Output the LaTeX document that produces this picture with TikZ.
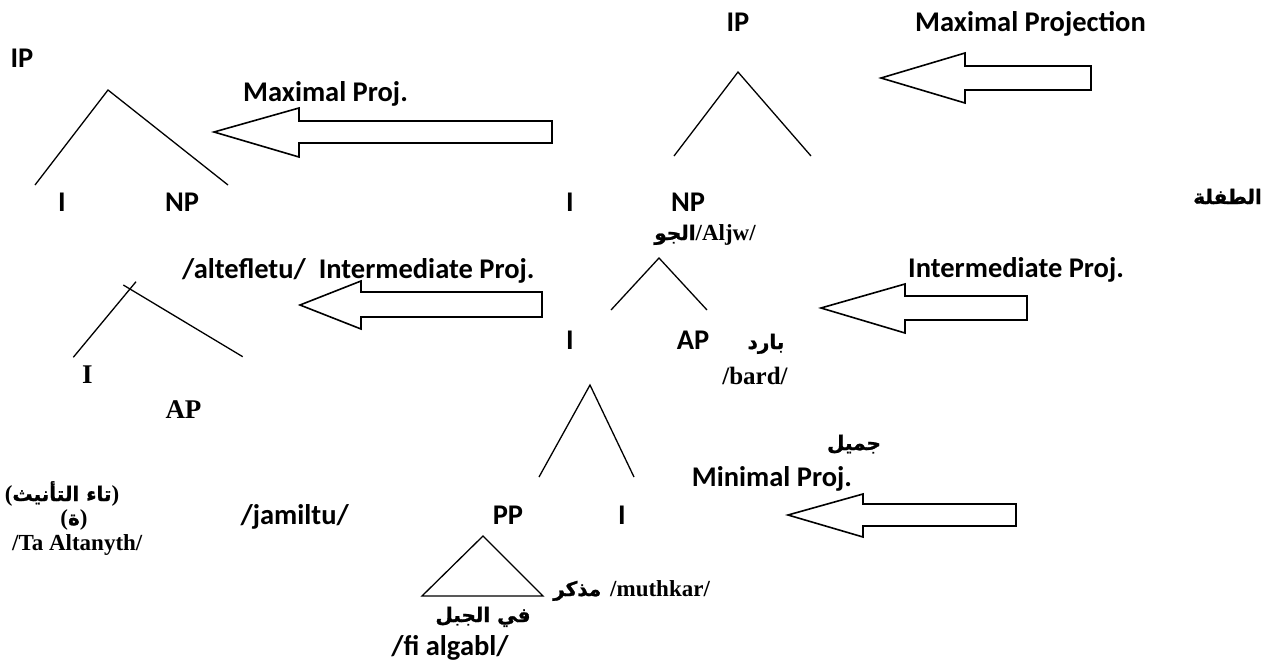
\documentclass[tikz,border=0pt]{standalone}
\usepackage{fontspec}
\setmainfont{Carlito}
\newfontfamily\tnr{Liberation Serif}
\newfontfamily\arabicfont[Script=Arabic, BoldFeatures={FakeBold=1.2}]{DejaVu Sans}
\TeXXeTstate=1
\newcommand\tmsfont[1]{\tnr\fontsize{#1}{#1}\selectfont\bfseries}
\newcommand\arbfont{\arabicfont\fontsize{20}{22}\selectfont\bfseries}
\begin{document}
\begin{tikzpicture}[x=1pt,y=-1pt,
  cal/.style={font=\fontsize{28.5}{31}\selectfont\bfseries, inner sep=0pt},
  tms/.style={font=\tmsfont{23}, inner sep=0pt},
  arb/.style={font=\arbfont, inner sep=0pt},
  branch/.style={line width=1.3pt},
  blockarr/.style={draw, line width=1.6pt, fill=white, line join=miter}]
\useasboundingbox (0,0) rectangle (1270,665);

% ---------- upper tree (IP -> I NP) ----------
\node[cal, anchor=base] (ipR) at (738,31) {IP};
\coordinate (tR) at (738,72);
\coordinate (tRl) at (674,156);
\coordinate (tRr) at (811,156);
\draw[branch] (tRl) -- (tR) -- (tRr);
\node[cal, anchor=base] (iR) at (570,211) {I};
\node[cal, anchor=base] (npR) at (688,211) {NP};
\node[anchor=base, inner sep=0pt] (aljw) at (705,240)
  {{\arbfont\beginR الجو\endR}{\tmsfont{23}/Aljw/}};
\node[arb, anchor=base east] (tifla) at (1262,204) {\beginR الطفلة\endR};

% ---------- left copy of the upper tree ----------
\node[cal, anchor=base] (ipL) at (22,67) {IP};
\coordinate (tL) at (108,90);
\coordinate (tLl) at (35,185);
\coordinate (tLr) at (228,185);
\draw[branch] (tLl) -- (tL) -- (tLr);
\node[cal, anchor=base] (iL) at (62,211) {I};
\node[cal, anchor=base] (npL) at (182,211) {NP};

% ---------- middle tree (I -> I AP) ----------
\coordinate (mR) at (659,258);
\coordinate (mRl) at (611,310);
\coordinate (mRr) at (707,310);
\draw[branch] (mRl) -- (mR) -- (mRr);
\node[cal, anchor=base] (iM) at (570,349) {I};
\node[cal, anchor=base] (apM) at (693,349) {AP};
\node[arb, anchor=base] (bard) at (766,349) {\beginR بارد\endR};
\node[font=\tmsfont{25}, inner sep=0pt, anchor=base] (bardT) at (755,384) {/bard/};

% ---------- left copy of the middle tree ----------
\coordinate (mLa) at (136,281.7);
\coordinate (mLl) at (73.3,357.3);
\coordinate (mLb) at (123.3,285);
\coordinate (mLr) at (242.7,356.7);
\draw[branch] (mLl) -- (mLa);
\draw[branch] (mLb) -- (mLr);
\node[font=\tmsfont{27}, inner sep=0pt, anchor=base] (iML) at (87.5,383) {I};
\node[font=\tmsfont{27}, inner sep=0pt, anchor=base] (apML) at (183.5,418) {AP};

% ---------- lower tree (I -> PP I) ----------
\coordinate (bR) at (590,385);
\coordinate (bRl) at (539,477);
\coordinate (bRr) at (634,477);
\draw[branch] (bRl) -- (bR) -- (bRr);
\node[cal, anchor=base] (pp) at (508,524) {PP};
\node[cal, anchor=base] (iB) at (622,524) {I};
\coordinate (pA) at (483,536);
\coordinate (pL) at (422,596);
\coordinate (pR) at (543,596);
\draw[branch] (pA) -- (pL) -- (pR) -- cycle;
\node[arb, anchor=base] (fijabal) at (483,622) {\beginR في الجبل\endR};
\node[cal, anchor=base] (fiT) at (450,655) {/fi algabl/};
\node[anchor=base west, inner sep=0pt] (muthkar) at (553,596)
  {{\arbfont\beginR مذكر\endR}\hspace{9pt}{\tmsfont{23}/muthkar/}};

% ---------- left column of the lower level ----------
\node[anchor=base, inner sep=0pt] (taa) at (62,501)
  {{\tmsfont{23}(}{\arbfont\beginR تاء التأنيث\endR}{\tmsfont{23})}};
\node[anchor=base, inner sep=0pt] (taaM) at (74,525)
  {{\tmsfont{23}(}{\arbfont\beginR ة\endR}{\tmsfont{23})}};
\node[tms, anchor=base west] (taaT) at (12,550) {/Ta Altanyth/};
\node[cal, anchor=base east] (jamil) at (349,524) {/jamiltu/};

% ---------- labels of the projections ----------
\node[cal, anchor=base west] (maxP) at (915,31) {Maximal Projection};
\node[cal, anchor=base west] (maxPL) at (243,101) {Maximal Proj.};
\node[cal, anchor=base west] (intPL) at (182,278) {/altefletu/\ \ Intermediate Proj.};
\node[cal, anchor=base west] (intP) at (908,277) {Intermediate Proj.};
\node[arb, anchor=base] (jamilA) at (854,450) {\beginR جميل\endR};
\node[cal, anchor=base] (minP) at (772,486) {Minimal Proj.};

% ---------- block arrows ----------
\draw[blockarr] (881,78) -- (965,53) -- (965,66) -- (1091,66) -- (1091,90) -- (965,90) -- (965,103) -- cycle;
\draw[blockarr] (214,132) -- (299,108) -- (299,121) -- (552,121) -- (552,143) -- (299,143) -- (299,157) -- cycle;
\draw[blockarr] (300,305) -- (361,281) -- (361,292) -- (542,292) -- (542,317) -- (361,317) -- (361,329) -- cycle;
\draw[blockarr] (821,308) -- (905,284) -- (905,296) -- (1027,296) -- (1027,320) -- (905,320) -- (905,333) -- cycle;
\draw[blockarr] (788,515) -- (863,494) -- (863,504) -- (1016,504) -- (1016,526) -- (863,526) -- (863,537) -- cycle;
\end{tikzpicture}
\end{document}
